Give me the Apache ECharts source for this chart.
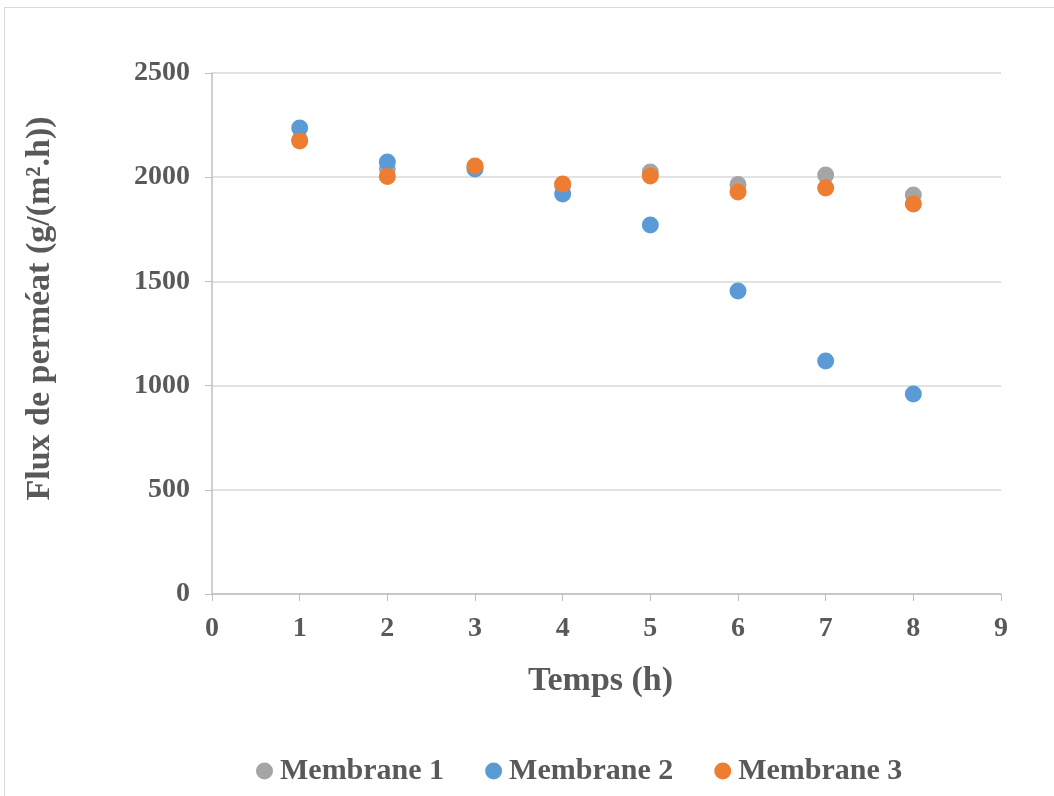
<!DOCTYPE html>
<html><head><meta charset="utf-8">
<script src="https://cdn.jsdelivr.net/npm/echarts@6/dist/echarts.min.js"></script>
<style>html,body{margin:0;padding:0;background:#fff}#c{width:1054px;height:796px}
#frame{position:absolute;left:4px;top:7px;width:1060px;height:800px;border:1px solid #d9d9d9;pointer-events:none}</style>
</head><body><div id="c"></div><div id="frame"></div>
<script>
const times = [1, 2, 3, 4, 5, 6, 7, 8];
const membrane1 = [2180, 2040, 2050, 1960, 2025, 1965, 2010, 1915];
const membrane2 = [2236, 2073, 2039, 1919, 1771, 1454, 1118, 960];
const membrane3 = [2174, 2003, 2054, 1967, 2006, 1929, 1948, 1871];
const seriesNames = ['Membrane 1', 'Membrane 2', 'Membrane 3'];
const colors = ['#a5a5a5', '#5b9bd5', '#ed7d31'];
const xTitle = 'Temps (h)';
const yTitle = 'Flux de perméat (g/(m².h))';

const font = 'Liberation Serif';
const txt = '#595959';
const chart = echarts.init(document.getElementById('c'));
const mk = (name, vals, i) => ({
  name, type: 'scatter', symbol: 'circle', symbolSize: 17,
  itemStyle: { color: colors[i], opacity: 1 },
  data: times.map((t, k) => [t, vals[k]])
});
chart.setOption({
  animation: false,
  color: colors,
  grid: { left: 212, right: 53, top: 73, bottom: 202 },
  legend: {
    bottom: 5, left: 251, itemWidth: 17, itemHeight: 17, itemGap: 41,
    icon: 'circle',
    textStyle: { fontFamily: font, fontWeight: 'bold', fontSize: 30, color: txt, padding: [0, 0, 0, 2] },
    data: seriesNames
  },
  xAxis: {
    type: 'value', min: 0, max: 9, interval: 1,
    name: xTitle, nameLocation: 'middle', nameGap: 70,
    nameTextStyle: { fontFamily: font, fontWeight: 'bold', fontSize: 34, color: txt, padding: [0, 12, 0, 0] },
    axisLine: { lineStyle: { color: '#bfbfbf', width: 1.5 } },
    axisTick: { show: true, length: 7, lineStyle: { color: '#bfbfbf' } },
    axisLabel: { fontFamily: font, fontWeight: 'bold', fontSize: 28, color: txt, margin: 21 },
    splitLine: { show: false }
  },
  yAxis: {
    type: 'value', min: 0, max: 2500, interval: 500,
    name: yTitle, nameLocation: 'middle', nameGap: 155, nameRotate: 90,
    nameTextStyle: { fontFamily: font, fontWeight: 'bold', fontSize: 34, color: txt, padding: [0, 0, 0, 50] },
    axisLine: { show: true, lineStyle: { color: '#bfbfbf', width: 1.5 } },
    axisTick: { show: true, length: 7, lineStyle: { color: '#bfbfbf' } },
    axisLabel: { fontFamily: font, fontWeight: 'bold', fontSize: 28, color: txt, margin: 22, formatter: v => String(v) },
    splitLine: { lineStyle: { color: '#d9d9d9', width: 1.5 } }
  },
  series: [mk(seriesNames[0], membrane1, 0), mk(seriesNames[1], membrane2, 1), mk(seriesNames[2], membrane3, 2)]
});
</script></body></html>
